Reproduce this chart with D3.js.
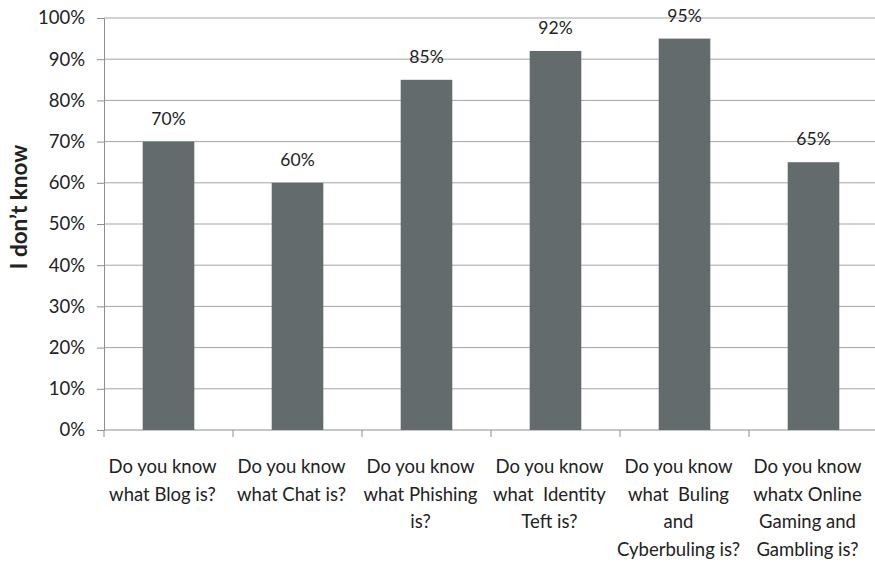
<!DOCTYPE html>
<html>
<head>
<meta charset="utf-8">
<script src="https://cdn.jsdelivr.net/npm/d3@7"></script>
<style>
  html, body { margin: 0; padding: 0; background: #fff; }
  svg text { font-family: Lato, "Open Sans", sans-serif; fill: #222; }
</style>
</head>
<body>
<svg id="chart" width="875" height="563"></svg>
<script>
// Survey questions (category axis) and share answering "I don't know"
const questions = [
  ["Do you know", "what Blog is?"],
  ["Do you know", "what Chat is?"],
  ["Do you know", "what Phishing", "is?"],
  ["Do you know", "what  Identity", "Teft is?"],
  ["Do you know", "what  Buling", "and", "Cyberbuling is?"],
  ["Do you know", "whatx Online", "Gaming and", "Gambling is?"]
];
const dontKnow = [70, 60, 85, 92, 95, 65];
const yTicks = [0, 10, 20, 30, 40, 50, 60, 70, 80, 90, 100];
const yTitle = "I don\u2019t know";

const svg = d3.select("#chart");
const margin = { left: 104, right: -3, top: 18, bottom: 133 };
const W = 875, H = 563;
const plotW = W - margin.left - margin.right;
const plotH = H - margin.top - margin.bottom;

const g = svg.append("g").attr("transform", `translate(${margin.left},${margin.top})`);

const x = d3.scaleBand().domain(d3.range(questions.length)).range([0, plotW]).paddingInner(0.6).paddingOuter(0.3);
const y = d3.scaleLinear().domain([0, 100]).range([plotH, 0]);

// horizontal gridlines
g.append("g").selectAll("line").data(yTicks.filter(t => t > 0)).join("line")
  .attr("x1", 0).attr("x2", plotW)
  .attr("y1", d => y(d)).attr("y2", d => y(d))
  .attr("stroke", "#a3a6a7").attr("stroke-width", 1);

// y axis
const yAxis = g.append("g").call(d3.axisLeft(y).tickValues(yTicks).tickFormat(d => d + "%").tickSize(7).tickPadding(12));
yAxis.select(".domain").attr("stroke", "#8c8f90");
yAxis.selectAll(".tick line").attr("stroke", "#8c8f90");
yAxis.selectAll(".tick text").attr("font-size", 18.5).attr("fill", "#222")
  .style("font-family", "Lato, 'Open Sans', sans-serif");

// x axis with separator ticks between categories
const bounds = d3.range(questions.length + 1).map(i => i * plotW / questions.length);
g.append("line").attr("x1", 0).attr("x2", plotW).attr("y1", plotH).attr("y2", plotH).attr("stroke", "#8c8f90");
g.append("g").selectAll("line").data(bounds).join("line")
  .attr("x1", d => d).attr("x2", d => d)
  .attr("y1", plotH).attr("y2", plotH + 7)
  .attr("stroke", "#8c8f90");

// bars
g.append("g").selectAll("rect").data(dontKnow).join("rect")
  .attr("x", (d, i) => x(i)).attr("width", x.bandwidth())
  .attr("y", d => y(d)).attr("height", d => plotH - y(d))
  .attr("fill", "#646b6c");

// value labels
g.append("g").selectAll("text").data(dontKnow).join("text")
  .attr("x", (d, i) => x(i) + x.bandwidth() / 2)
  .attr("y", d => y(d) - 17)
  .attr("text-anchor", "middle").attr("font-size", 17.5)
  .text(d => d + "%");

// category labels (centred slightly left of the band centre)
const lab = g.append("g").selectAll("text").data(questions).join("text")
  .attr("x", (d, i) => x(i) + x.bandwidth() / 2 - 6)
  .attr("y", plotH + 43)
  .attr("text-anchor", "middle").attr("font-size", 18.5);
lab.selectAll("tspan").data(d => d).join("tspan")
  .attr("x", function() { return d3.select(this.parentNode).attr("x"); })
  .attr("dy", (d, i) => i === 0 ? 0 : 27.5)
  .style("white-space", "pre")
  .text(d => d);

// y axis title
svg.append("text")
  .attr("transform", `translate(27,207) rotate(-90)`)
  .attr("text-anchor", "middle").attr("font-size", 22.5).attr("font-weight", "bold")
  .text(yTitle);
</script>
</body>
</html>
